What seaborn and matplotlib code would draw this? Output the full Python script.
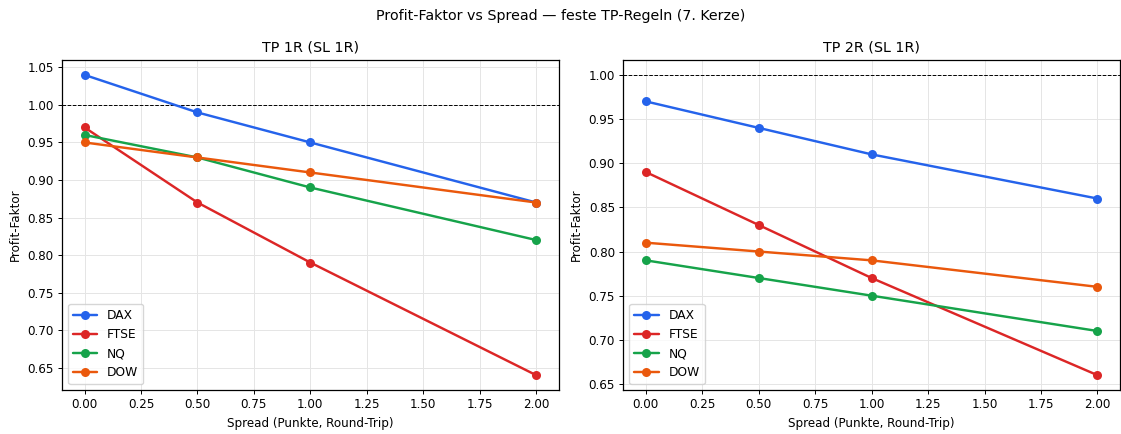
import matplotlib
matplotlib.use("Agg")
import matplotlib.pyplot as plt
import seaborn as sns
import pandas as pd

spreads = [0.0, 0.5, 1.0, 2.0]
markets = ["DAX", "FTSE", "NQ", "DOW"]
colors = ["#2563eb", "#dc2626", "#16a34a", "#ea580c"]

# Profit factor per market, TP 1R (SL 1R)
tp1_dax = [1.04, 0.99, 0.95, 0.87]
tp1_ftse = [0.97, 0.87, 0.79, 0.64]
tp1_nq = [0.96, 0.93, 0.89, 0.82]
tp1_dow = [0.95, 0.93, 0.91, 0.87]

# Profit factor per market, TP 2R (SL 1R)
tp2_dax = [0.97, 0.94, 0.91, 0.86]
tp2_ftse = [0.89, 0.83, 0.77, 0.66]
tp2_nq = [0.79, 0.77, 0.75, 0.71]
tp2_dow = [0.81, 0.80, 0.79, 0.76]

panels = [
    ("TP 1R (SL 1R)", [tp1_dax, tp1_ftse, tp1_nq, tp1_dow]),
    ("TP 2R (SL 1R)", [tp2_dax, tp2_ftse, tp2_nq, tp2_dow]),
]

sns.set_style("whitegrid")
plt.rcParams["font.family"] = ["DejaVu Sans"]
plt.rcParams["text.color"] = "black"
plt.rcParams["axes.labelcolor"] = "black"
plt.rcParams["xtick.color"] = "black"
plt.rcParams["ytick.color"] = "black"

fig, axes = plt.subplots(1, 2, figsize=(11.21, 4.34), dpi=100)
fig.subplots_adjust(left=0.0553, right=0.9991, bottom=0.101, top=0.862, wspace=0.13)

for ax, (title, series) in zip(axes, panels):
    rows = []
    for name, vals in zip(markets, series):
        for s, v in zip(spreads, vals):
            rows.append({"Spread": s, "PF": v, "Markt": name})
    df = pd.DataFrame(rows)
    ax.axhline(1.0, color="black", linestyle="--", linewidth=0.7)
    sns.lineplot(data=df, x="Spread", y="PF", hue="Markt", hue_order=markets,
                 palette=colors, marker="o", markersize=6.5, markeredgewidth=0,
                 linewidth=1.75, ax=ax)
    ax.set_title(title, fontsize=10.3)
    ax.set_xlabel("Spread (Punkte, Round-Trip)", fontsize=8.6)
    ax.set_ylabel("Profit-Faktor", fontsize=8.6)
    ax.grid(True, color="#e5e5e5", linewidth=0.7)
    for sp in ax.spines.values():
        sp.set_color("black")
        sp.set_linewidth(0.9)
    ax.tick_params(axis="both", labelsize=8.6, length=3, width=0.7,
                   color="black", bottom=True, left=True, pad=3)
    ax.legend(loc="lower left", fontsize=8.8, title=None)

fig.suptitle("Profit-Faktor vs Spread — feste TP-Regeln (7. Kerze)", fontsize=10.3, y=0.98)
fig.savefig("out.png", dpi=100)
